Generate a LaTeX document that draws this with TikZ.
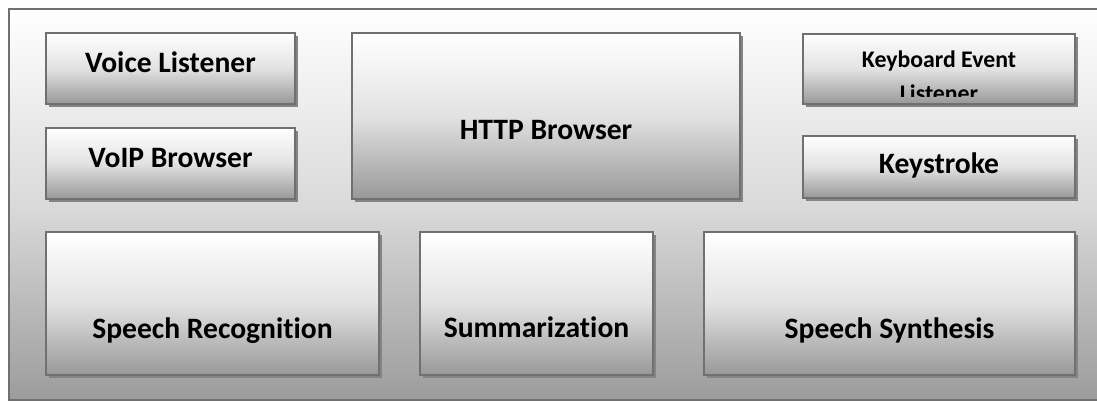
\documentclass[tikz,border=0pt]{standalone}
\usepackage{fontspec}
\setmainfont[Ligatures=NoCommon]{Carlito}
\usetikzlibrary{shadows,calc}
\definecolor{bordc}{RGB}{112,112,112}
\definecolor{shadc}{RGB}{132,132,132}
\definecolor{botc}{RGB}{152,152,152}
\definecolor{midc}{RGB}{226,226,226}
\definecolor{obotc}{RGB}{156,156,156}
\definecolor{omidc}{RGB}{218,218,218}
\begin{document}
\begin{tikzpicture}[x=1pt,y=-1pt,
  outerbox/.style={draw=bordc, line width=2pt, top color=white, bottom color=obotc, middle color=omidc, inner sep=0pt, anchor=north west},
  box/.style={draw=bordc, line width=2pt, top color=white, bottom color=botc, middle color=midc, inner sep=0pt, anchor=north west,
    drop shadow={shadow xshift=3pt, shadow yshift=-3pt, fill=shadc, opacity=1}},
  lbl/.style={font=\bfseries\fontsize{29.6}{35}\selectfont, text=black, inner sep=0pt, anchor=base},
  smalllbl/.style={font=\bfseries\fontsize{23.8}{34}\selectfont, text=black, inner sep=0pt, anchor=base, align=center}]
\useasboundingbox (0,0) rectangle (1097,400);
\node[outerbox, minimum width=1110pt, minimum height=391pt] (frame) at (8,8) {};
\node[box, minimum width=249pt, minimum height=71pt] (vl) at (45,32) {};
\node[box, minimum width=249pt, minimum height=71pt] (voip) at (45,127) {};
\node[box, minimum width=388pt, minimum height=166pt] (http) at (351,32) {};
\node[box, minimum width=272pt, minimum height=70pt] (kel) at (802,33) {};
\node[box, minimum width=272pt, minimum height=62pt] (ks) at (802,135) {};
\node[box, minimum width=333pt, minimum height=143pt] (sr) at (45,231) {};
\node[box, minimum width=233pt, minimum height=143pt] (sum) at (419,231) {};
\node[box, minimum width=371pt, minimum height=143pt] (ss) at (703,231) {};
\node[lbl] (vlt) at (vl.center |- 0,72) {Voice Listener};
\node[lbl] (voipt) at (voip.center |- 0,167) {VoIP Browser};
\node[lbl] (httpt) at (http.center |- 0,139) {HTTP Browser};
\node[lbl] (kst) at (ks.center |- 0,173) {Keystroke};
\node[lbl] (srt) at (sr.center |- 0,338) {Speech Recognition};
\node[lbl] (sumt) at (sum.center |- 0,337) {Summarization};
\node[lbl] (sst) at (ss.center |- 0,338) {Speech Synthesis};
\begin{scope}
  \clip ($(kel.north west)+(1,1)$) rectangle ($(kel.south east)+(-1,-9)$);
  \node[smalllbl] (kelt) at (kel.center |- 0,101) {Keyboard Event\\Listener};
\end{scope}
\end{tikzpicture}
\end{document}
